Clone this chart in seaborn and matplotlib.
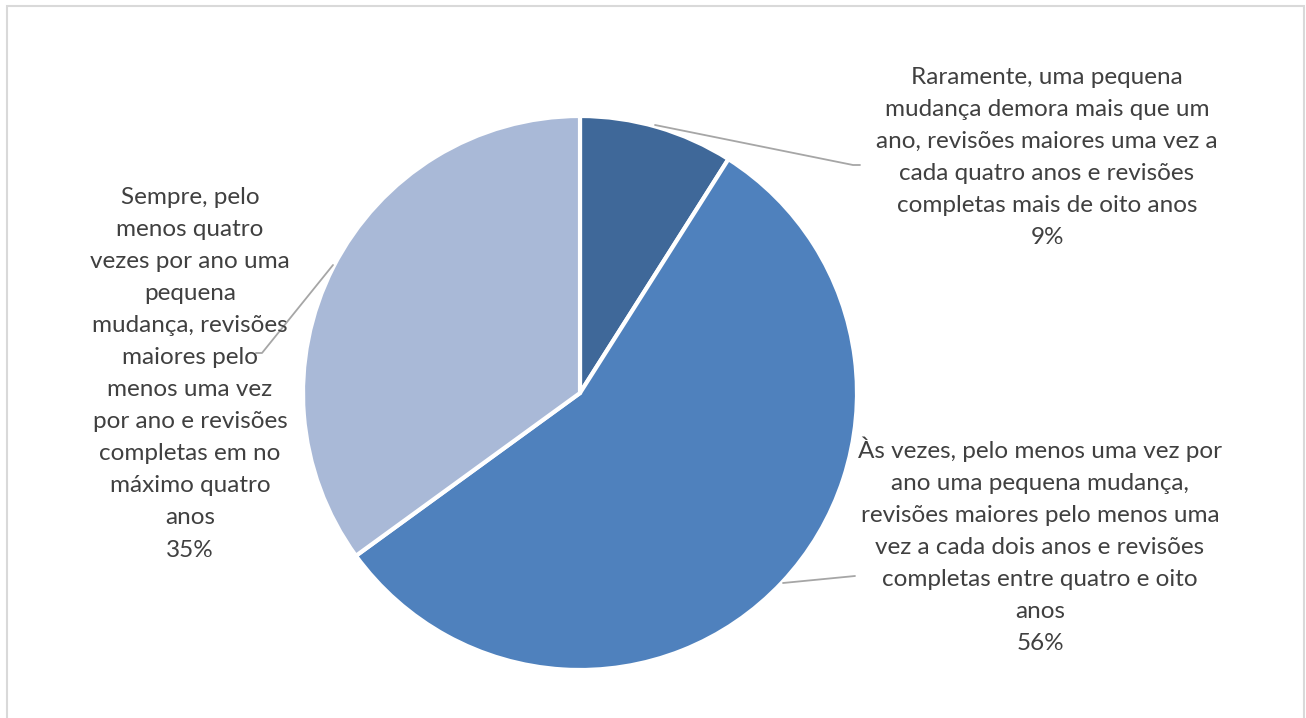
import matplotlib
matplotlib.use("Agg")
import matplotlib.pyplot as plt
import seaborn as sns
from matplotlib.patches import Rectangle

sns.set_theme(style="white")
plt.rcParams["font.family"] = ["Lato", "DejaVu Sans"]

# Frequency of revisions (share of respondents)
categories = [
    "Raramente, uma pequena\nmudança demora mais que um\nano, revisões maiores uma vez a\ncada quatro anos e revisões\ncompletas mais de oito anos",
    "Às vezes, pelo menos uma vez por\nano uma pequena mudança,\nrevisões maiores pelo menos uma\nvez a cada dois anos e revisões\ncompletas entre quatro e oito\nanos",
    "Sempre, pelo\nmenos quatro\nvezes por ano uma\npequena\nmudança, revisões\nmaiores pelo\nmenos uma vez\npor ano e revisões\ncompletas em no\nmáximo quatro\nanos",
]
values = [9, 56, 35]
colors = ["#3F6899", "#4F81BD", "#A9B9D7"]

W, H = 1306, 718
fig = plt.figure(figsize=(W / 100, H / 100), dpi=100)
ax = fig.add_axes([0, 0, 1, 1])

cx, cy, r = 580, H - 393, 277
ax.pie(values, colors=colors, startangle=90, counterclock=False,
       center=(cx, cy), radius=r, frame=True,
       wedgeprops=dict(edgecolor="white", linewidth=3))
ax.set_xlim(0, W)
ax.set_ylim(0, H)
ax.set_aspect("equal")
ax.axis("off")

# outer frame
ax.add_patch(Rectangle((7, -10), 1297, H - 6 + 10, fill=False,
                       edgecolor="#D9D9D9", linewidth=1.5))

label_pos = [(1047, H - 67), (1040, H - 436), (190, H - 187)]
leaders = [
    [(655, 125), (853, 165), (860, 165)],
    [(783, 583), (855, 576)],
    [(333, 265), (262, 353), (256, 353)],
]
text_color = "#404040"
for cat, val, (tx, ty), pts in zip(categories, values, label_pos, leaders):
    ax.text(tx, ty, f"{cat}\n{val}%", ha="center", va="top",
            fontsize=17.5, color=text_color, linespacing=1.65)
    xs = [p[0] for p in pts]
    ys = [H - p[1] for p in pts]
    ax.plot(xs, ys, color="#A6A6A6", linewidth=1.3)

fig.savefig("out.png", dpi=100)
